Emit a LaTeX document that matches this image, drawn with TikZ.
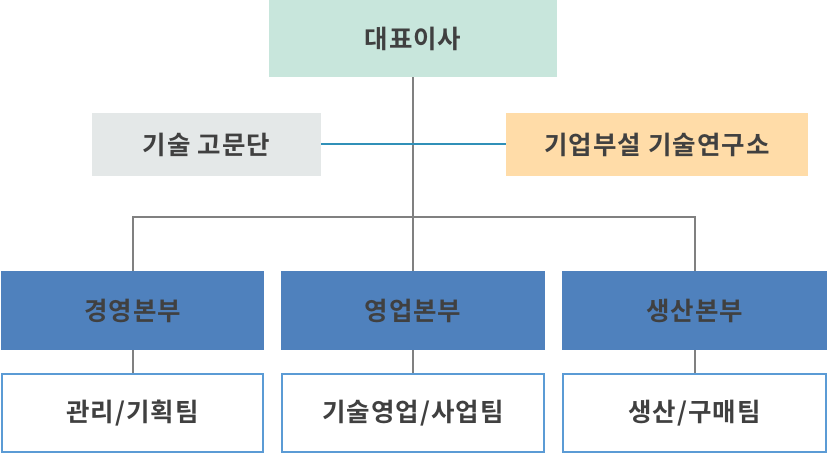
\documentclass[tikz,border=0pt]{standalone}
\usepackage{fontspec}
\newfontfamily\kr[LetterSpace=4]{Noto Sans CJK KR Bold}
\definecolor{txt}{HTML}{404040}
\definecolor{ceo}{HTML}{C8E6DC}
\definecolor{adv}{HTML}{E4E8E8}
\definecolor{lab}{HTML}{FFDCA8}
\definecolor{div}{HTML}{4F81BD}
\definecolor{teamb}{HTML}{5B9BD5}
\definecolor{conn}{HTML}{808080}
\definecolor{blu}{HTML}{3090B8}
\begin{document}
\begin{tikzpicture}[x=1pt,y=-1pt,
  box/.style={inner sep=0pt, text=txt, font=\kr\fontsize{25.5}{30}\selectfont},
  ln/.style={draw=conn, line width=2pt}]
\useasboundingbox (0,0) rectangle (828,454);
\fill[white] (0,0) rectangle (828,454);
\coordinate (j) at (413,217);
\node[box, fill=ceo, minimum width=288pt, minimum height=77pt] (ceo) at (413,38.5) {대표이사};
\node[box, fill=adv, minimum width=229pt, minimum height=63pt] (adv) at (206.5,144.5) {기술 고문단};
\node[box, fill=lab, minimum width=302pt, minimum height=63pt] (lab) at (657,144.5) {기업부설 기술연구소};
\node[box, fill=div, minimum width=263pt, minimum height=79pt] (d1) at (132.5,310.5) {경영본부};
\node[box, fill=div, minimum width=264pt, minimum height=79pt] (d2) at (413,310.5) {영업본부};
\node[box, fill=div, minimum width=265pt, minimum height=79pt] (d3) at (694.5,310.5) {생산본부};
\node[box, draw=teamb, line width=2pt, fill=white, minimum width=261pt, minimum height=78pt] (t1) at (132.5,413) {관리/기획팀};
\node[box, draw=teamb, line width=2pt, fill=white, minimum width=262pt, minimum height=78pt] (t2) at (413,413) {기술영업/사업팀};
\node[box, draw=teamb, line width=2pt, fill=white, minimum width=263pt, minimum height=78pt] (t3) at (694.5,413) {생산/구매팀};
\draw[ln] (ceo.south) -- (j);
\draw[draw=blu, line width=2pt] (adv.east) -- (lab.west);
\draw[ln] (d1.north) -- (d1.north |- j) -- (d3.north |- j) -- (d3.north);
\draw[ln] (j) -- (d2.north);
\draw[ln] (d1.south) -- (t1.north);
\draw[ln] (d2.south) -- (t2.north);
\draw[ln] (d3.south) -- (t3.north);
\end{tikzpicture}
\end{document}
